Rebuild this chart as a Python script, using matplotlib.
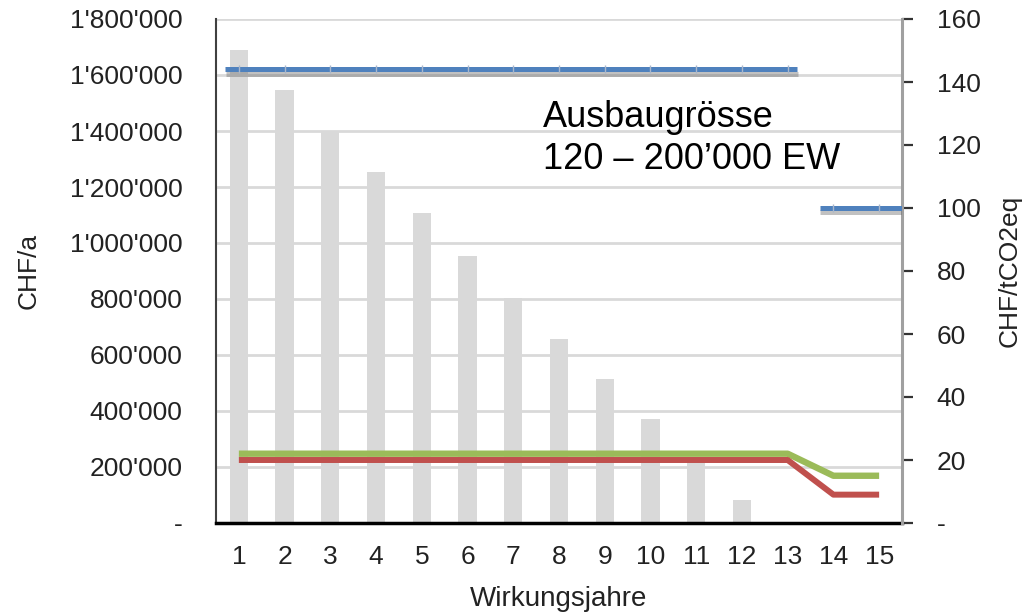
import matplotlib.pyplot as plt
import matplotlib.patheffects as pe
from matplotlib.ticker import FixedLocator, FuncFormatter

plt.rcParams['font.family'] = ['Liberation Sans', 'DejaVu Sans']

# Wirkungsjahre und Jahreskosten (CHF/a)
jahre = list(range(1, 16))
kosten = [1689000, 1546000, 1400000, 1253000, 1107000, 954000, 804000,
          657000, 514000, 371000, 225000, 82000, 0, 0, 0]

# Vermeidungskosten CHF/tCO2eq
blau_jahre_a = list(range(1, 14))
blau_a = [144] * 13
blau_jahre_b = [14, 15]
blau_b = [100, 100]
gruen = [22] * 13 + [15, 15]
rot = [20] * 13 + [9, 9]

links_ticks = [0, 200000, 400000, 600000, 800000, 1000000, 1200000,
               1400000, 1600000, 1800000]
rechts_ticks = [0, 20, 40, 60, 80, 100, 120, 140, 160]


def chf(v, pos=None):
    if v == 0:
        return '-'
    s = f"{int(v):,}".replace(',', "'")
    return s


fig = plt.figure(figsize=(10.34, 6.16), dpi=100)
ax = fig.add_axes([216 / 1034, 1 - 523 / 616, (902 - 216) / 1034, (523 - 19) / 616])

ax.bar(jahre, kosten, width=0.4, color='#d9d9d9', zorder=2)
ax.set_xlim(0.5, 15.5)
ax.set_ylim(0, 1800000)
ax.yaxis.set_major_locator(FixedLocator(links_ticks))
ax.yaxis.set_major_formatter(FuncFormatter(chf))
ax.set_xticks(jahre)
ax.grid(axis='y', color='#d9d9d9', linewidth=2, zorder=0)
ax.set_axisbelow(True)
ax.tick_params(axis='y', length=0, pad=24, labelsize=19, labelcolor='#222222')
ax.tick_params(axis='x', length=0, pad=16, labelsize=19, labelcolor='#222222')
ax.set_ylabel('CHF/a', fontsize=19, labelpad=21, color='#222222')
ax.set_xlabel('Wirkungsjahre', fontsize=20, labelpad=12, color='#222222')

for side in ['top', 'right']:
    ax.spines[side].set_visible(False)
ax.spines['left'].set_color('#404040')
ax.spines['left'].set_linewidth(1.5)
ax.spines['bottom'].set_color('black')
ax.spines['bottom'].set_linewidth(2.5)
ax.spines['bottom'].set_zorder(5)

ax2 = ax.twinx()
ax2.set_ylim(0, 160)
ax2.yaxis.set_major_locator(FixedLocator(rechts_ticks))
ax2.yaxis.set_major_formatter(FuncFormatter(chf))
ax2.tick_params(axis='y', length=8, width=1.6, color='#333333', pad=17,
                labelsize=19, labelcolor='#222222')
for side in ['top', 'left', 'bottom']:
    ax2.spines[side].set_visible(False)
ax2.spines['right'].set_color('#a0a0a0')
ax2.spines['right'].set_linewidth(2.2)
ax2.set_ylabel('CHF/tCO2eq', fontsize=19, labelpad=12, color='#222222')

schatten = [pe.SimpleLineShadow(offset=(0.5, -3), shadow_color='0.4', alpha=0.4),
            pe.Normal()]

# blaue Linie, etwas über die Jahrespunkte hinaus gezogen
for xs, ys in [(blau_jahre_a, blau_a), (blau_jahre_b, blau_b)]:
    ax2.hlines(ys[0], xs[0] - 0.3, xs[-1] + 0.2 if xs[-1] < 15 else 15.6,
               color='#4f81bd', linewidth=3.6, path_effects=schatten, zorder=4)
    ax2.plot(xs, ys, linestyle='none', marker='|', markersize=6,
             markeredgewidth=1, markeredgecolor='#a9b7cc', zorder=5)

ax2.plot(jahre, gruen, color='#9bbb59', linewidth=4.6, solid_capstyle='butt', zorder=3)
ax2.plot(jahre, rot, color='#c0504d', linewidth=4.3, solid_capstyle='butt', zorder=3)

ax2.text(543 / 1034, 1 - 100 / 616, 'Ausbaugrösse\n120 – 200’000 EW',
         transform=fig.transFigure, fontsize=26, va='top', ha='left',
         linespacing=1.25, color='black')

fig.savefig('out.png', dpi=100)
